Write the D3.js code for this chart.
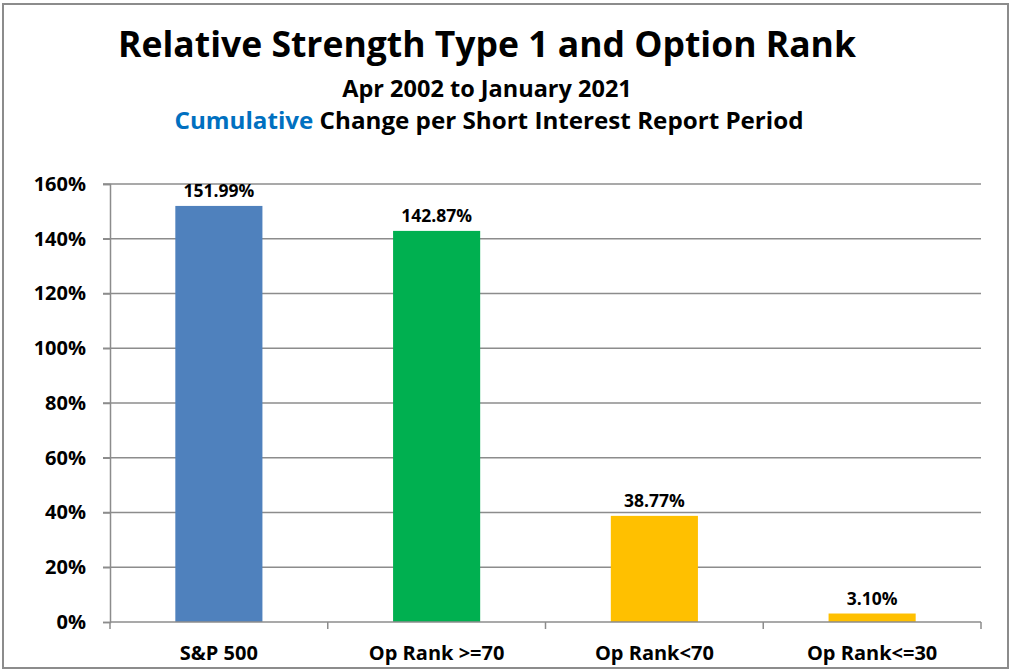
<!DOCTYPE html>
<html><head><meta charset="utf-8">
<script src="https://cdn.jsdelivr.net/npm/d3@7"></script>
<style>body{margin:0;background:#fff}svg{display:block}text{font-family:"Open Sans",Lato,sans-serif;font-weight:bold}</style>
</head><body>
<script>
const categories = ["S&P 500", "Op Rank >=70", "Op Rank<70", "Op Rank<=30"];
const values = [151.99, 142.87, 38.77, 3.10];
const colors = ["#4F81BD", "#00B050", "#FFC000", "#FFC000"];
const yTicks = [0, 20, 40, 60, 80, 100, 120, 140, 160];

const W = 1012, H = 671;
const svg = d3.select("body").append("svg").attr("width", W).attr("height", H);
svg.append("rect").attr("x", 3).attr("y", 4).attr("width", 1005).attr("height", 664)
  .attr("fill", "#fff").attr("stroke", "#8c8c8c").attr("stroke-width", 2);

const m = {left: 110, right: 981, top: 184, bottom: 622};
const x = d3.scaleBand().domain(categories).range([m.left, m.right]).paddingInner(0.6).paddingOuter(0.3);
const y = d3.scaleLinear().domain([0, 160]).range([m.bottom, m.top]);

// gridlines
svg.append("g").selectAll("line").data(yTicks.filter(d => d > 0)).join("line")
  .attr("x1", m.left - 7).attr("x2", m.right).attr("y1", d => y(d)).attr("y2", d => y(d))
  .attr("stroke", "#8c8c8c").attr("stroke-width", 1.5);

// y axis
const ya = svg.append("g").attr("transform", `translate(${m.left},0)`)
  .call(d3.axisLeft(y).tickValues(yTicks).tickFormat(d => d + "%").tickSize(7).tickPadding(17));
ya.select(".domain").attr("stroke", "#8c8c8c").attr("stroke-width", 1.5);
ya.selectAll(".tick line").attr("stroke", "#8c8c8c").attr("stroke-width", 1.5);
ya.selectAll("text").attr("font-size", 20).attr("fill", "#000").attr("font-family", "'Open Sans',Lato,sans-serif").attr("font-weight", "bold");

// bars
svg.append("g").selectAll("rect").data(values).join("rect")
  .attr("x", (d, i) => x(categories[i])).attr("width", x.bandwidth())
  .attr("y", d => y(d)).attr("height", d => y(0) - y(d)).attr("fill", (d, i) => colors[i]);

// data labels
svg.append("g").selectAll("text").data(values).join("text")
  .attr("x", (d, i) => x(categories[i]) + x.bandwidth() / 2).attr("y", d => y(d) - 9)
  .attr("text-anchor", "middle").attr("font-size", 17.5).attr("fill", "#000")
  .text(d => d.toFixed(2) + "%");

// x axis
const step = (m.right - m.left) / categories.length;
const xb = svg.append("g");
xb.append("line").attr("x1", m.left).attr("x2", m.right).attr("y1", m.bottom).attr("y2", m.bottom)
  .attr("stroke", "#8c8c8c").attr("stroke-width", 1.5);
xb.selectAll("line.tk").data(d3.range(categories.length + 1)).join("line").attr("class", "tk")
  .attr("x1", i => m.left + i * step).attr("x2", i => m.left + i * step)
  .attr("y1", m.bottom).attr("y2", m.bottom + 7).attr("stroke", "#8c8c8c").attr("stroke-width", 1.5);
xb.selectAll("text").data(categories).join("text")
  .attr("x", d => x(d) + x.bandwidth() / 2).attr("y", 660)
  .attr("text-anchor", "middle").attr("font-size", 20).attr("fill", "#000").text(d => d);

// titles
svg.append("text").attr("x", 487).attr("y", 57).attr("text-anchor", "middle").attr("font-size", 35.5)
  .text("Relative Strength Type 1 and Option Rank");
svg.append("text").attr("x", 487).attr("y", 97).attr("text-anchor", "middle").attr("font-size", 23.5)
  .text("Apr 2002 to January 2021");
const t3 = svg.append("text").attr("x", 489).attr("y", 129).attr("text-anchor", "middle").attr("font-size", 24)
  .attr("textLength", 629).attr("lengthAdjust", "spacingAndGlyphs");
t3.append("tspan").attr("fill", "#0070C0").text("Cumulative");
t3.append("tspan").attr("fill", "#000").text(" Change per Short Interest Report Period");
</script>
</body></html>
